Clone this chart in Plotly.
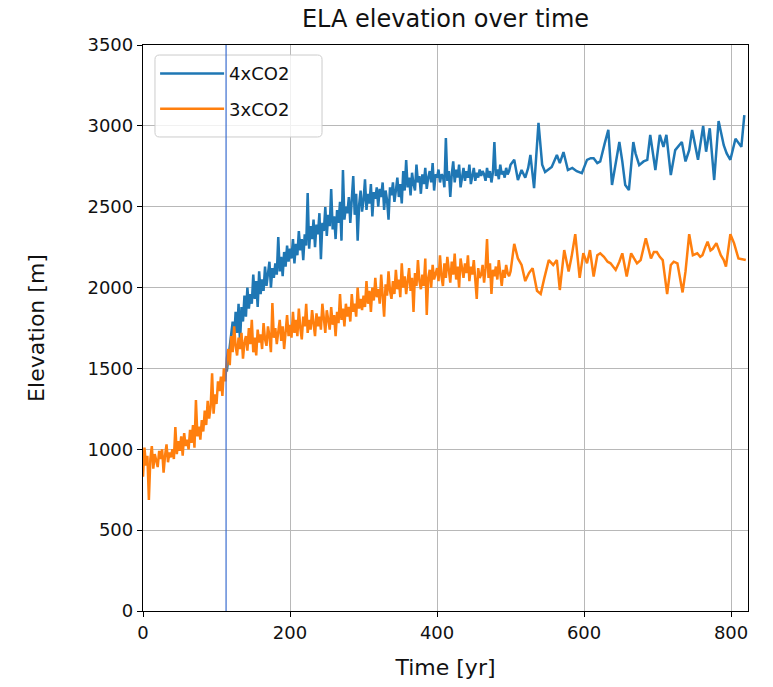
import plotly.graph_objects as go

# ---------------- data ----------------
# 3xCO2: annual-ish part sampled every 2 years from year 0
co2x3_start = 0
co2x3_vals = [
    830, 1010, 900, 960, 686, 940, 1020, 880, 970, 930,
    890, 990, 940, 1000, 855, 960, 1030, 920, 980, 950,
    1000, 940, 1138, 970, 1050, 990, 1080, 960, 1100, 1020,
    1060, 1000, 1120, 1040, 1150, 1010, 1305, 1080, 1140, 1060,
    1180, 1110, 1240, 1150, 1300, 1190, 1260, 1470, 1220, 1340,
    1280, 1420, 1360, 1450, 1330, 1500, 1420, 1560, 1620, 1520,
    1700, 1600, 1760, 1640, 1580, 1690, 1620, 1720, 1560, 1660,
    1700, 1610, 1750, 1650, 1800, 1600, 1690, 1580, 1740, 1660,
    1710, 1620, 1780, 1680, 1640, 1760, 1700, 1600, 1905, 1690,
    1750, 1650, 1720, 1800, 1670, 1760, 1620, 1740, 1830, 1700,
    1770, 1690, 1850, 1720, 1800, 1700, 1870, 1750, 1680, 1820,
    1760, 1900, 1720, 1800, 1740, 1860, 1780, 1700, 1840, 1760,
    1820, 1740, 1900, 1780, 1720, 1860, 1800, 1740, 1880, 1770,
    1830, 1700, 1850, 1780, 1960, 1800, 1870, 1760, 1900, 1820,
    1880, 1790, 1960, 1850, 1900, 1820, 2000, 1870, 1930, 1860,
    1950, 1880, 2040, 1900, 1980, 1850, 2000, 1920, 2060, 1940,
    1990, 1900, 2080, 1960, 1820, 2020, 1950, 2100, 1980, 1930,
    2040, 1960, 2110, 1990, 2050, 1940, 2150, 2000, 2070, 1960,
    2030, 2120, 1980, 2060, 1850, 2090, 2010, 2170, 2040, 1990,
    2080, 2010, 2180, 1830, 2060, 2110, 2000, 2140, 2050, 2080,
    2120, 2040, 2200, 2070, 2010, 2150, 2060, 2190, 2090, 2030,
    2160, 2080, 2210, 2050, 2130, 2000, 2180, 2100, 2060, 2150,
    2090, 2200, 2040, 2130, 2080, 2170, 2060, 1930, 2120, 2060,
    2080, 2140, 2030, 2120, 2300, 2060, 2150, 1960, 2110, 2070,
    2130, 2050, 2170, 2080, 2010, 2110, 2060, 2140, 2090, 2070,
    2100,
]
# 3xCO2: sparser later part
co2x3_late_years = [505, 510, 515, 520, 525, 530, 536, 541, 546, 552, 558, 563, 567, 573, 579,
                    583, 588, 594, 599, 604, 608, 613, 618, 622, 627, 632, 636, 643, 648, 652,
                    658, 664, 668, 672, 677, 684, 691, 695, 699, 703, 707, 713, 718, 722, 727,
                    734, 738, 743, 748, 754, 758, 761, 765, 768, 772, 775, 780, 786, 790, 793,
                    799, 804, 810, 815, 820]
co2x3_late_vals = [2270, 2180, 2140, 2040, 2090, 2120, 1980, 1960, 2060, 2170, 2140, 2170, 1985, 2232, 2100,
                   2190, 2330, 2060, 2212, 2150, 2232, 2068, 2200, 2212, 2190, 2160, 2150, 2109, 2160, 2212,
                   2068, 2212, 2180, 2150, 2170, 2305, 2180, 2220, 2220, 2190, 2170, 1960, 2140, 2160, 2150,
                   1970, 2100, 2330, 2200, 2212, 2190, 2200, 2250, 2284, 2230, 2240, 2275, 2200, 2170, 2130,
                   2330, 2275, 2180, 2175, 2170]

# 4xCO2: branches off at year 114, sampled every 2 years
co2x4_start = 114
co2x4_vals = [
    1480, 1560, 1620,
    1700, 1790, 1680, 1850, 1720, 1900, 1660, 1880, 1790, 1950,
    1820, 2000, 1870, 1960, 1900, 2080, 1930, 2040, 1880, 2100,
    1960, 2050, 1980, 2130, 2010, 2090, 2160, 2000, 2120, 2060,
    2150, 2080, 2313, 2100, 2190, 2070, 2220, 2130, 2260, 2160,
    2240, 2180, 2300, 2150, 2270, 2200, 2350, 2230, 2300, 2170,
    2330, 2260, 2585, 2240, 2380, 2300, 2420, 2250, 2390, 2330,
    2460, 2176, 2400, 2350, 2498, 2320, 2450, 2380, 2610, 2360,
    2440, 2300, 2480, 2400, 2530, 2290, 2727, 2420, 2500, 2460,
    2560, 2400, 2520, 2690, 2450, 2580, 2290, 2510, 2600, 2470,
    2540, 2670, 2480, 2580, 2520, 2640, 2440, 2590, 2550, 2620,
    2500, 2610, 2560, 2650, 2480, 2600, 2540, 2420, 2620, 2570,
    2650, 2530, 2600, 2680, 2560, 2640, 2520, 2720, 2600, 2789,
    2620, 2680, 2570, 2710, 2640, 2600, 2760, 2650, 2690, 2580,
    2700, 2640, 2740, 2610, 2680, 2720, 2650, 2770, 2600, 2700,
    2680, 2730, 2650, 2700, 2690, 2620, 2925, 2660, 2720, 2560,
    2700, 2780, 2650, 2730, 2680, 2760, 2620, 2700, 2740, 2660,
    2720, 2680, 2760, 2640, 2700, 2740, 2660, 2710, 2680, 2730,
    2690, 2720, 2700, 2660, 2740, 2680, 2720, 2650, 2710, 2900,
    2690, 2730, 2670, 2760, 2700, 2720, 2680, 2740, 2700, 2720,
    2760,
]
co2x4_late_years = [505, 510, 515, 520, 524, 527, 532, 538, 543, 547, 552, 556, 563, 567, 572,
                    578, 584, 590, 597, 604, 609, 613, 618, 622, 628, 633, 638, 643, 648, 652,
                    656, 661, 667, 670, 675, 681, 686, 690, 697, 703, 708, 712, 718, 724, 729,
                    733, 738, 743, 747, 755, 762, 766, 771, 777, 783, 790, 794, 799, 806, 811,
                    814, 818]
co2x4_late_vals = [2790, 2665, 2727, 2680, 2740, 2820, 2615, 3018, 2760, 2715, 2730, 2746, 2820, 2770, 2838,
                   2727, 2740, 2720, 2708, 2790, 2800, 2800, 2770, 2780, 2890, 2975, 2634, 2760, 2900, 2780,
                   2634, 2603, 2900, 2830, 2757, 2780, 2790, 2944, 2727, 2944, 2870, 2944, 2696, 2850, 2880,
                   2900, 2780, 2850, 2975, 2790, 3000, 2840, 2985, 2665, 3030, 2880, 2830, 2790, 2920, 2890,
                   2870, 3067]

vline_year = 113
series_names = ["4xCO2", "3xCO2"]
series_colors = ["#1f77b4", "#ff7f0e"]
x_ticks = [0, 200, 400, 600, 800]
y_ticks = [0, 500, 1000, 1500, 2000, 2500, 3000, 3500]

# ---------------- build ----------------
x3 = [co2x3_start + 2 * i for i in range(len(co2x3_vals))] + co2x3_late_years
y3 = co2x3_vals + co2x3_late_vals
x4 = [co2x4_start + 2 * i for i in range(len(co2x4_vals))] + co2x4_late_years
y4 = co2x4_vals + co2x4_late_vals

FONT = "DejaVu Sans"
TXT = "#111111"
fig = go.Figure()
fig.add_trace(go.Scatter(x=x4, y=y4, mode="lines", name=series_names[0], legendgroup="a",
                         line=dict(color=series_colors[0], width=2.5)))
fig.add_trace(go.Scatter(x=x3, y=y3, mode="lines", name=series_names[1], legendgroup="b",
                         line=dict(color=series_colors[1], width=2.5)))

# legend frame (matplotlib-like rounded box), in paper coordinates
lx0, lx1, ly0, ly1 = 0.0198, 0.2959, 0.8375, 0.9823
rx, ry = 0.0075, 0.008
frame_path = (f"M {lx0+rx},{ly1} L {lx1-rx},{ly1} Q {lx1},{ly1} {lx1},{ly1-ry} "
              f"L {lx1},{ly0+ry} Q {lx1},{ly0} {lx1-rx},{ly0} L {lx0+rx},{ly0} "
              f"Q {lx0},{ly0} {lx0},{ly0+ry} L {lx0},{ly1-ry} Q {lx0},{ly1} {lx0+rx},{ly1} Z")
fig.add_shape(type="path", path=frame_path, xref="paper", yref="paper",
              fillcolor="rgba(255,255,255,0.8)", line=dict(color="#cccccc", width=1), layer="above")

fig.add_shape(type="line", xref="x", yref="paper", x0=vline_year, x1=vline_year, y0=0, y1=1,
              line=dict(color="#3a6ccf", width=1.2), layer="above")

axis_common = dict(showline=True, linecolor="black", linewidth=1.3, mirror=True,
                   ticks="outside", ticklen=5, tickwidth=1.3, tickcolor="black",
                   showgrid=True, gridcolor="#b8b8b8", gridwidth=1, zeroline=False,
                   tickfont=dict(family=FONT, size=18, color=TXT))

fig.update_layout(
    width=773, height=687,
    margin=dict(l=143, r=25, t=45, b=76),
    paper_bgcolor="white", plot_bgcolor="white",
    font=dict(family=FONT, color=TXT),
    title=dict(text="ELA elevation over time", x=0.5, xref="paper", xanchor="center",
               y=1 - 19 / 687, yref="container", yanchor="middle",
               font=dict(family=FONT, size=24, color=TXT)),
    xaxis=dict(range=[0, 823], tickvals=x_ticks,
               title=dict(text="Time [yr]", font=dict(family=FONT, size=22, color=TXT), standoff=17),
               **axis_common),
    yaxis=dict(range=[0, 3500], tickvals=y_ticks,
               title=dict(text="Elevation [m]", font=dict(family=FONT, size=22, color=TXT), standoff=36),
               **axis_common),
    legend=dict(x=0.02, y=0.982, xanchor="left", yanchor="top",
                bgcolor="rgba(0,0,0,0)", borderwidth=0,
                font=dict(family=FONT, size=18, color=TXT), tracegroupgap=9,
                itemwidth=64, traceorder="grouped"),
    showlegend=True,
)

fig.write_html("out.html")
